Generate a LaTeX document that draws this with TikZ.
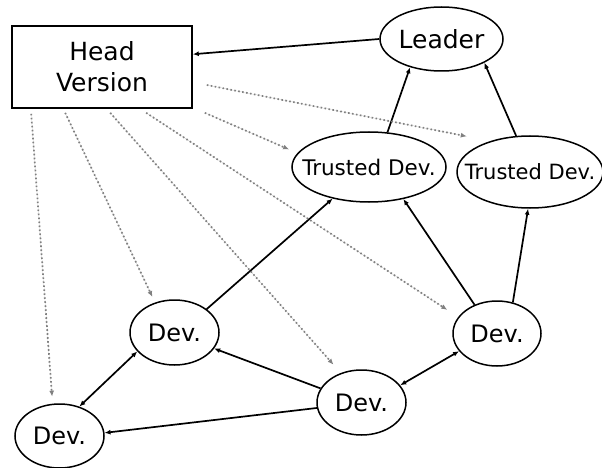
\documentclass[tikz,border=0pt]{standalone}
\usepackage{fontspec}
\setmainfont{DejaVu Sans}
\usetikzlibrary{arrows.meta,shapes.geometric,calc}
% label of zero width, so the text does not widen the ellipse around it
\newcommand\lbl[1]{\makebox[0pt]{#1}}
\begin{document}
\begin{tikzpicture}[x=1pt,y=-1pt,
  box/.style={draw, line width=1.6pt, rectangle, minimum width=180, minimum height=82,
    inner sep=0pt, align=center, font=\fontsize{25}{31}\selectfont},
  oval/.style={draw, line width=1.5pt, ellipse, inner sep=0pt, font=\fontsize{24}{28}\selectfont},
  link/.style={line width=1.7pt, -{Latex[length=6pt,width=5pt]}},
  biglink/.style={line width=1.7pt, {Latex[length=6pt,width=5pt]}-{Latex[length=6pt,width=5pt]}},
  copyto/.style={draw=gray, line width=1.7pt, dash pattern=on 1.6pt off 2.4pt,
    -{Latex[length=6pt,width=5pt]}, fill=gray}
]
\useasboundingbox (0,0) rectangle (602,468);

% nodes
\node[box] (hv) at (102,67) {Head\\Version};
\node[oval, minimum width=123, minimum height=64, font=\fontsize{25}{30}\selectfont] (ld) at (441.5,39) {\lbl{Leader}};
\node[oval, minimum width=154, minimum height=70, font=\fontsize{21.5}{25}\selectfont] (t1) at (369,167) {\lbl{Trusted Dev.}};
\node[oval, minimum width=146, minimum height=72, font=\fontsize{21}{25}\selectfont] (t2) at (530,172) {\lbl{Trusted Dev.}};
\node[oval, minimum width=89, minimum height=65] (dm) at (174.5,332.5) {\lbl{Dev.}};
\node[oval, minimum width=89, minimum height=64] (dbl) at (59.5,436) {\lbl{Dev.}};
\node[oval, minimum width=89, minimum height=65] (dbm) at (361.5,402.5) {\lbl{Dev.}};
\node[oval, minimum width=88, minimum height=65] (dr) at (497,333.5) {\lbl{Dev.}};

% solid links
\draw[link] (ld.180) -- (hv.8);
\draw[link] (t1.62) -- (ld.222);
\draw[link] (t2.111) -- (ld.331);
\draw[link] (dm.36) -- (t1.221);
\draw[link] (dr.128) -- (t1.317);
\draw[link] (dr.63) -- (t2.267);
\draw[link] (dbm.161) -- (dm.338);
\draw[link] (dbm.187) -- (dbl.4);
\draw[biglink] (dm.207) -- (dbl.56);
\draw[biglink] (dbm.24) -- (dr.205);

% dotted copies of the head version
\draw[copyto, shorten >=7pt] ($(hv.south west)+(20,5)$) -- (dbl.102);
\draw[copyto, shorten >=6pt] ($(hv.south west)+(54,4)$) -- (dm.123);
\draw[copyto, shorten >=11pt] ($(hv.south west)+(99,4)$) -- (dbm.125);
\draw[copyto, shorten >=13pt] ($(hv.south west)+(135,4)$) -- (dr.157);
\draw[copyto, shorten >=9pt] ($(hv.south east)+(12,4)$) -- (t1.169);
\draw[copyto, shorten >=24pt] ($(hv.east)+(14,18)$) -- (t2.142);
\end{tikzpicture}
\end{document}
